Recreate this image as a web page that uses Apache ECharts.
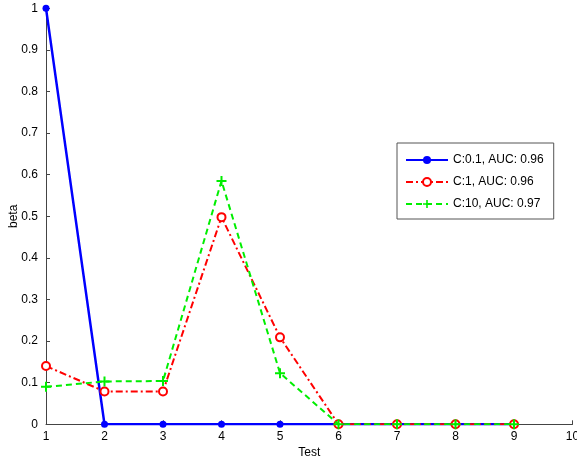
<!DOCTYPE html>
<html><head><meta charset="utf-8">
<script src="https://cdn.jsdelivr.net/npm/echarts@6/dist/echarts.min.js"></script>
<style>html,body{margin:0;padding:0;background:#fff}#c{width:577px;height:459px}</style>
</head><body><div id="c"></div>
<script>
const tests = [1, 2, 3, 4, 5, 6, 7, 8, 9];
const seriesNames = ['C:0.1, AUC: 0.96', 'C:1, AUC: 0.96', 'C:10, AUC: 0.97'];
const betaC01 = [1, 0, 0, 0, 0, 0, 0, 0, 0];
const betaC1 = [0.14, 0.079, 0.079, 0.498, 0.209, 0, 0, 0, 0];
const betaC10 = [0.09, 0.103, 0.104, 0.585, 0.123, 0, 0, 0, 0];
const yTicks = ['0','0.1','0.2','0.3','0.4','0.5','0.6','0.7','0.8','0.9','1'];

const pair = v => tests.map((t, i) => [t, v[i]]);
const font = 'Liberation Sans, Arial, Helvetica, sans-serif';
const plus = 'path://M4,0H6V4H10V6H6V10H4V6H0V4H4Z';

const chart = echarts.init(document.getElementById('c'), null, {renderer: 'canvas'});
chart.setOption({
  animation: false,
  backgroundColor: '#fff',
  textStyle: {fontFamily: font},
  grid: {left: 46, right: 4.5, top: 8.3, bottom: 34.7, containLabel: false, outerBoundsMode: 'none'},
  xAxis: {
    type: 'value', min: 1, max: 10, interval: 1,
    name: 'Test', nameLocation: 'middle', nameGap: 22, nameMoveOverlap: false,
    nameTextStyle: {color: '#000', fontSize: 12, fontFamily: font},
    axisLine: {show: true, lineStyle: {color: '#444', width: 1}},
    axisTick: {show: true, inside: true, length: 4, lineStyle: {color: '#444'}},
    axisLabel: {color: '#000', fontSize: 12, fontFamily: font, margin: 6},
    splitLine: {show: false}
  },
  yAxis: {
    type: 'value', min: 0, max: 1, interval: 0.1,
    name: 'beta', nameLocation: 'middle', nameGap: 32, nameRotate: 90, nameMoveOverlap: false,
    nameTextStyle: {color: '#000', fontSize: 12, fontFamily: font, verticalAlign: 'middle'},
    axisLine: {show: true, lineStyle: {color: '#444', width: 1}},
    axisTick: {show: true, inside: true, length: 4, lineStyle: {color: '#444'}},
    axisLabel: {color: '#000', fontSize: 12, fontFamily: font, margin: 8,
      formatter: (v) => yTicks[Math.round(v * 10)]},
    splitLine: {show: false}
  },
  legend: {
    orient: 'vertical', left: 397, top: 143, width: 174,
    padding: [11, 10, 9, 8], itemGap: 10,
    itemWidth: 42, itemHeight: 10,
    backgroundColor: '#fff', borderColor: '#555', borderWidth: 1,
    textStyle: {color: '#000', fontSize: 12, fontFamily: font},
    data: seriesNames
  },
  series: [
    {name: seriesNames[0], type: 'line', data: pair(betaC01),
     symbol: 'circle', symbolSize: 7, showAllSymbol: true,
     itemStyle: {color: '#0000ff'},
     lineStyle: {color: '#0000ff', width: 2.5, type: 'solid'}, z: 2},
    {name: seriesNames[1], type: 'line', data: pair(betaC1),
     symbol: 'emptyCircle', symbolSize: 8, showAllSymbol: true,
     itemStyle: {color: '#ff0000', borderColor: '#ff0000', borderWidth: 2},
     lineStyle: {color: '#ff0000', width: 2, type: [7, 3, 2, 3]}, z: 3},
    {name: seriesNames[2], type: 'line', data: pair(betaC10),
     symbol: plus, symbolSize: 10, showAllSymbol: true,
     itemStyle: {color: '#00ee00'},
     lineStyle: {color: '#00ee00', width: 2, type: [6, 4]}, z: 4}
  ]
});
</script></body></html>
